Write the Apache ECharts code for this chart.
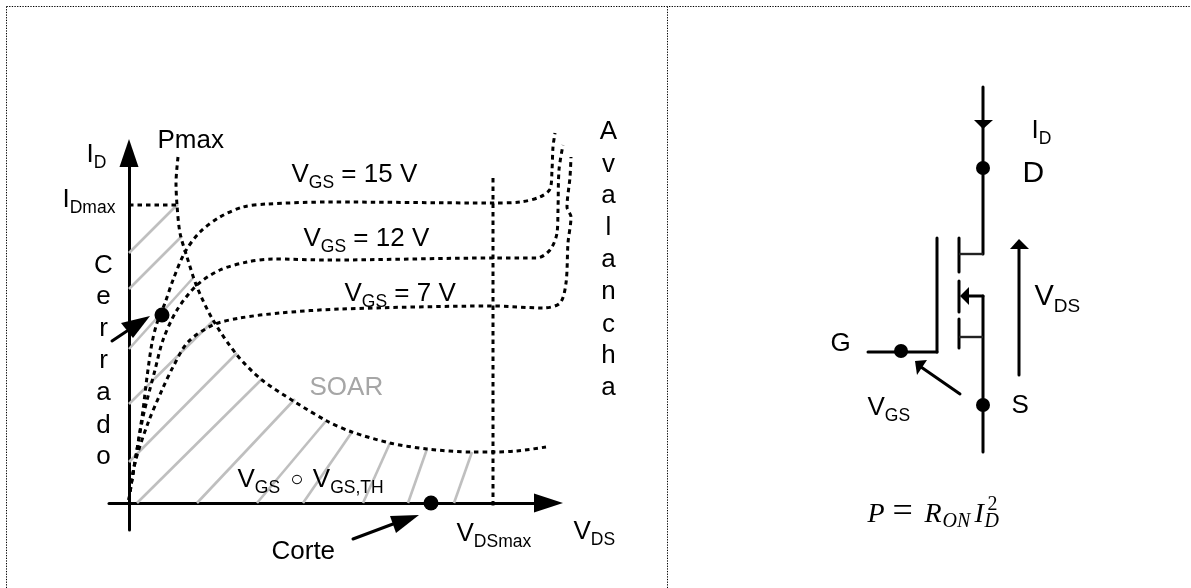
<!DOCTYPE html>
<html>
<head>
<meta charset="utf-8">
<style>html,body{margin:0;padding:0;background:#fff}#c{width:1191px;height:588px}</style>
<script src="https://cdn.jsdelivr.net/npm/echarts@6/dist/echarts.min.js"></script>
</head>
<body>
<div id="c"></div>
<script>
// ---- Left plot: curves in plot units (origin at the axes crossing)
const pmaxX = [49,47,48,51,58,68,84,108,133,166,198,223,261,298,343,364,388,417];
const pmaxY = [346,320,298,270,246,216,183,148,123,101,82,71,60,54,51,51,52,56];
const vgs15X = [0,1,8,14,18,23,28,36,44,56,71,91,114,138,201,364,391,411,421,423,424,426];
const vgs15Y = [3,11,53,93,126,160,180,200,223,251,271,286,296,299,301,300,301,306,314,333,356,370];
const vgs12X = [0,4,14,26,34,48,68,91,118,144,201,364,408,421,428,429,430,434];
const vgs12Y = [3,30,86,133,163,193,218,233,241,244,243,245,245,253,270,293,333,358];
const vgs7X = [0,6,19,33,44,59,84,111,151,211,364,414,431,437,439,442,438,441,442];
const vgs7Y = [3,40,80,113,136,161,178,185,190,194,197,195,200,220,260,286,296,326,346];
const idMaxLine = [[0,298],[48,298]];
const vdsMaxLine = [[364,325],[364,-5]];
// SOAR hatching
const hatchStartX = [0,0,0,0,0,8,68,128,174,234,279,325];
const hatchStartY = [250,214,154,99,41,0,0,0,0,0,0,0];
const hatchEndX = [49,53,64,84,108,133,166,197,223,261,298,343];
const hatchEndY = [299,267,225,182,150,124,104,82,71,60,54,51];
// Plot annotations
const plotArrowShafts = [[-17,162,-2,172],[224,-36,264,-21]];
const plotArrowHeads = [[21,187,-8,180,4,165],[290,-12,261,-13,267,-30]];
const plotDots = [[33,188],[302,0]];
const plotTexts = ['{m|I}{s|D}','{m|Pmax}','{m|I}{s|Dmax}','{m|V}{s|GS}{m| = 15 V}','{m|V}{s|GS}{m| = 12 V}','{m|V}{s|GS}{m| = 7 V}','{g|SOAR}','{m|V}{s|GS}{m| }{c|○}{m| V}{s|GS,TH}','{m|Corte}','{m|V}{s|DSmax}','{m|V}{s|DS}'];
const plotTextX = [-42,29,-66,163,175,216,181,109,143,328,445];
const plotTextY = [341,355,296,321,257,202,108,16,-56,-38,-36];
const cerradoLetters = ['C','e','r','r','a','d','o'];
const cerradoX = -25;
const cerradoY = [230,199,167,135,103,70,39];
const avalanchaLetters = ['A','v','a','l','a','n','c','h','a'];
const avalanchaX = 480;
const avalanchaY = [364,331,300,268,236,204,171,140,108];
// ---- Page frame and circuit, in sheet units
const frameLines = [[6.5,6.5,1191,6.5],[6.5,6.5,6.5,588],[667.5,6.5,667.5,588]];
const wires = [[983,87,983,254],[937,238,937,352],[868,352,937,352],[959,238,959,272],[959,281,959,312],[959,319,959,348],[969,296,983,296],[983,296,983,452],[1019,375,1019,249],[960,394,921,367]];
const thinWires = [[959,254,983,254],[959,337,983,337]];
const circuitHeads = [[974,120,993,120,983,129],[1019,239,1010,249,1029,249],[915,361,927,360,917,375],[960,296,969,287,969,305]];
const circuitDots = [[983,168],[983,405],[901,351]];
const circuitTexts = ['{m|I}{s|D}','{d|D}','{M|V}{S|DS}','{m|G}','{m|V}{s|GS}','{m|S}'];
const circuitTextX = [1032,1023,1035,831,868,1012];
const circuitTextY = [138,181,304,351,415,413];
const formulaTexts = ['P','=','R','ON','I','D','2'];
const formulaX = [868,893,925,943,975,985,988];
const formulaY = [522,523,522,527,522,527,510];
const formulaItalic = [1,0,1,1,1,1,0];
const formulaSizes = [28,36,28,20,28,20,20];

const SANS = 'Liberation Sans', SERIF = 'Liberation Serif', INK = '#000';
const rich = {
  m:{fontFamily:SANS,fontSize:26,lineHeight:34,color:INK},
  s:{fontFamily:SANS,fontSize:17.5,lineHeight:34,color:INK,verticalAlign:'bottom'},
  g:{fontFamily:SANS,fontSize:26,lineHeight:34,color:'#a6a6a6'},
  c:{fontFamily:SANS,fontSize:22,lineHeight:34,color:INK,padding:[0,2,0,3]},
  M:{fontFamily:SANS,fontSize:29,lineHeight:38,color:INK},
  S:{fontFamily:SANS,fontSize:19,lineHeight:38,color:INK,verticalAlign:'bottom'},
  d:{fontFamily:SANS,fontSize:30,lineHeight:38,color:INK}
};
const PLOT = 2, SHEET = 1;
const zip = (a,b)=>a.map((v,i)=>[v,b[i]]);
const lineSeries = (data,grid,style,smooth)=>({type:'line',xAxisIndex:grid,yAxisIndex:grid,data,symbol:'none',silent:true,clip:false,smooth:smooth||false,lineStyle:style,z:3});
const segs = (list,grid,style)=>list.map(s=>lineSeries([[s[0],s[1]],[s[2],s[3]]],grid,style));
const dash = {color:'#000',width:3,type:[4.5,4]};
const solid = {color:'#000',width:3,type:'solid',cap:'round'};
const thin = {color:'#222',width:2.4,type:'solid'};
const grey = {color:'#bfbfbf',width:2.6,type:'solid'};
const frame = {color:'#000',width:1,type:[1.3,1.35]};

const heads = (list,grid)=>({type:'custom',xAxisIndex:grid,yAxisIndex:grid,silent:true,clip:false,z:5,
  encode:{x:[0,2,4],y:[1,3,5]},data:list,
  renderItem:(p,api)=>({type:'polygon',shape:{points:[0,2,4].map(i=>api.coord([api.value(i),api.value(i+1)]))},style:{fill:'#000'}})});
const dots = (list,grid,size)=>({type:'scatter',xAxisIndex:grid,yAxisIndex:grid,silent:true,data:list,symbolSize:size,itemStyle:{color:'#000',opacity:1},z:6});
const textSeries = (texts,xs,ys,grid,size,extra)=>({type:'scatter',xAxisIndex:grid,yAxisIndex:grid,silent:true,symbolSize:1,z:7,
  itemStyle:{color:'rgba(0,0,0,0)',opacity:1},
  data:texts.map((t,i)=>({value:[Array.isArray(xs)?xs[i]:xs,ys[i]],label:Object.assign({show:true,formatter:t,position:[0,0],align:'left',verticalAlign:'middle',rich,offset:[0,-0.35*size+2.5],fontFamily:SANS,fontSize:size,color:INK,opacity:1},extra||{})}))});

const series = [];
hatchStartX.forEach((x,i)=>series.push(lineSeries([[x,hatchStartY[i]],[hatchEndX[i],hatchEndY[i]]],PLOT,grey)));
series.push(lineSeries(zip(pmaxX,pmaxY),PLOT,dash,0.3));
series.push(lineSeries(zip(vgs15X,vgs15Y),PLOT,dash,0.3));
series.push(lineSeries(zip(vgs12X,vgs12Y),PLOT,dash,0.3));
series.push(lineSeries(zip(vgs7X,vgs7Y),PLOT,dash,0.3));
series.push(lineSeries(idMaxLine,PLOT,dash));
series.push(lineSeries(vdsMaxLine,PLOT,dash));
series.push(...segs(plotArrowShafts,PLOT,solid));
series.push(heads(plotArrowHeads,PLOT));
series.push(dots(plotDots,PLOT,15));
series.push(textSeries(plotTexts,plotTextX,plotTextY,PLOT,26));
series.push(textSeries(cerradoLetters,cerradoX,cerradoY,PLOT,26,{align:'center'}));
series.push(textSeries(avalanchaLetters,avalanchaX,avalanchaY,PLOT,26,{align:'center'}));
series.push(...segs(frameLines,SHEET,frame));
series.push(...segs(wires,SHEET,solid));
series.push(...segs(thinWires,SHEET,thin));
series.push(heads(circuitHeads,SHEET));
series.push(dots(circuitDots,SHEET,14));
series.push(textSeries(circuitTexts,circuitTextX,circuitTextY,SHEET,26));
formulaTexts.forEach((t,i)=>{
  const size = formulaSizes[i];
  series.push(textSeries([t],[formulaX[i]],[formulaY[i]],SHEET,size,{fontFamily:SERIF,fontSize:size,fontStyle:formulaItalic[i]?'italic':'normal',rich:undefined}));
});

const noDeco = {axisLabel:{show:false},axisTick:{show:false},splitLine:{show:false}};
const chart = echarts.init(document.getElementById('c'),null,{renderer:'canvas'});
chart.setOption({
  animation:false,
  backgroundColor:'#fff',
  tooltip:{show:false},
  grid:[
    {left:109,top:153,width:439.5,height:377,containLabel:false},
    {left:0,top:0,width:1191,height:588,containLabel:false},
    {left:0,top:0,width:1191,height:588,containLabel:false}
  ],
  xAxis:[
    Object.assign({type:'value',gridIndex:0,min:-20,max:419.5,axisLine:{show:true,onZero:true,symbol:['none','triangle'],symbolSize:[19,29],lineStyle:{color:'#000',width:3}}},noDeco),
    Object.assign({type:'value',gridIndex:1,min:0,max:1191,show:false},noDeco),
    Object.assign({type:'value',gridIndex:2,min:-129,max:1062,show:false},noDeco)
  ],
  yAxis:[
    Object.assign({type:'value',gridIndex:0,min:-27,max:350,axisLine:{show:true,onZero:true,symbol:['none','triangle'],symbolSize:[19,28],lineStyle:{color:'#000',width:3}}},noDeco),
    Object.assign({type:'value',gridIndex:1,min:0,max:588,inverse:true,show:false},noDeco),
    Object.assign({type:'value',gridIndex:2,min:-85,max:503,show:false},noDeco)
  ],
  series
});
</script>
</body>
</html>
